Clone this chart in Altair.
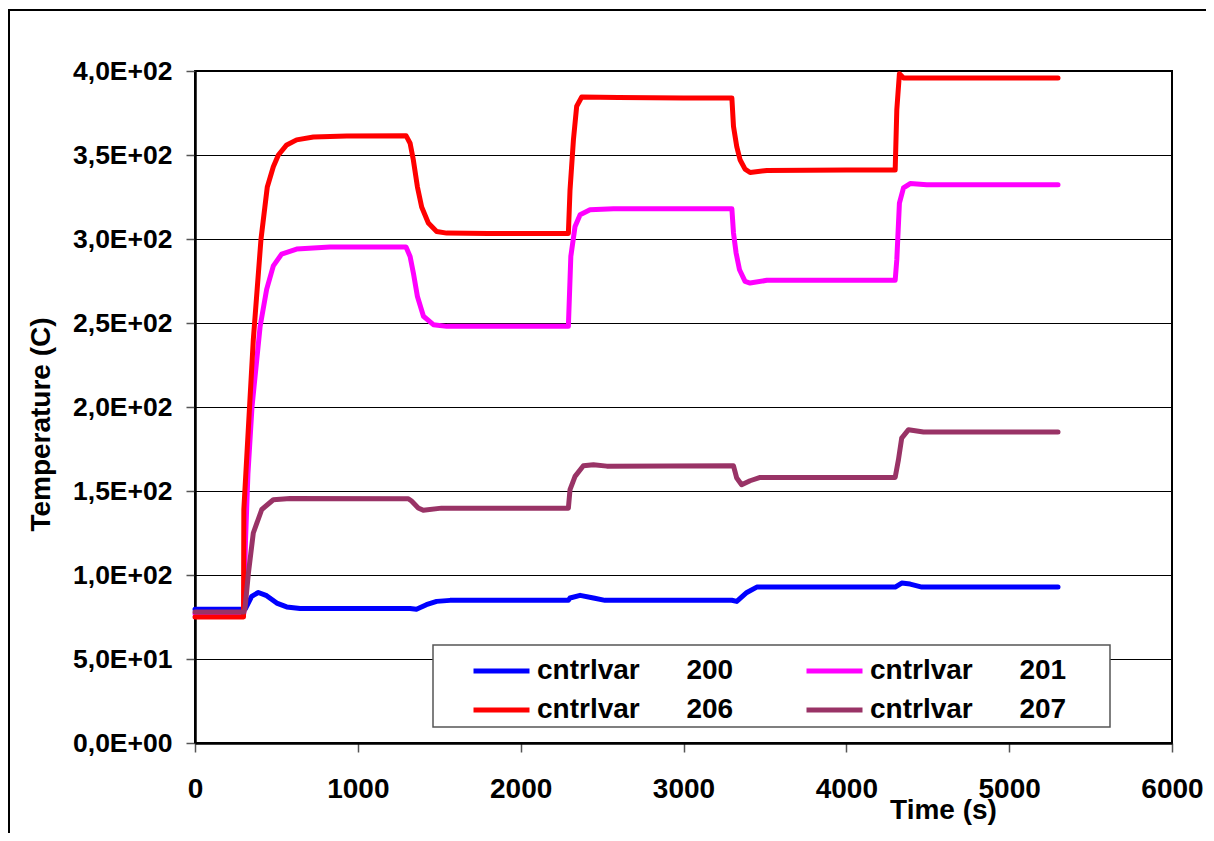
import altair as alt
import pandas as pd

# ---- data ----
SERIES = ["cntrlvar 200", "cntrlvar 201", "cntrlvar 206", "cntrlvar 207"]
COLORS = ["#0000FF", "#FF00FF", "#FF0000", "#993366"]

T_200 = [0, 300, 310, 348, 389, 440, 502, 563, 645, 1321, 1360, 1421, 1484, 1566, 2293, 2303,
         2365, 2447, 2518, 3297, 3327, 3389, 3450, 3512, 4300, 4340, 4392, 4464, 5300]
V_200 = [79.6, 79.6, 80, 87.3, 89.6, 87.7, 83.3, 81, 80, 80, 79.6, 82.3, 84.3, 84.9, 85, 86.3,
         87.9, 86.3, 84.9, 85, 84.3, 89.6, 92.8, 92.8, 92.8, 95.2, 94.6, 92.8, 92.8]

T_201 = [0, 300, 310, 325, 350, 400, 440, 481, 532, 624, 829, 1296, 1321, 1341, 1366, 1403, 1464,
         1546, 2293, 2308, 2334, 2365, 2426, 2570, 3297, 3307, 3323, 3344, 3378, 3409, 3512, 4300,
         4310, 4326, 4351, 4392, 4494, 5300]
V_201 = [77, 77, 120, 160, 200, 248, 270, 284, 291, 294, 295.2, 295.2, 289.6, 279.8, 265.8, 254, 249,
         248, 248, 289.6, 307.5, 314.5, 317.4, 318, 318, 303.6, 291.7, 281.7, 274.8, 273.8, 275.4, 275.4,
         287.7, 321.4, 330.4, 333, 332.3, 332.3]

T_206 = [0, 298, 300, 335, 358, 405, 444, 481, 512, 563, 624, 727, 932, 1296, 1321, 1341, 1366, 1392,
         1433, 1484, 1546, 1800, 2293, 2303, 2324, 2344, 2375, 2600, 3000, 3297, 3307, 3327, 3348, 3378,
         3409, 3512, 4000, 4300, 4310, 4326, 4351, 4500, 5300]
V_206 = [75, 75, 139, 200, 240, 299.6, 331, 343, 350, 356, 359, 360.7, 361.3, 361.5, 357, 347, 331, 319,
         309.5, 304.5, 303.5, 303.3, 303.3, 329, 359, 379, 384.5, 384.2, 384, 384, 367, 355, 347, 341.6,
         339.6, 340.8, 341, 341, 377, 398.4, 395.8, 395.8, 395.8]

T_207 = [0, 300, 307, 328, 358, 410, 481, 584, 1310, 1330, 1371, 1402, 1514, 2293, 2303, 2334, 2385,
         2447, 2529, 3307, 3327, 3357, 3409, 3471, 4300, 4320, 4340, 4382, 4474, 5300]
V_207 = [78, 78, 80, 101, 125, 139, 144.8, 145.6, 145.4, 144, 139.9, 138.5, 139.8, 139.8, 150.8, 158.7,
         165, 165.6, 164.8, 165, 157.7, 153.7, 156.1, 158.1, 158.1, 168.6, 181.5, 186.5, 185.1, 185.1]

X_TICKS = [0, 1000, 2000, 3000, 4000, 5000, 6000]
Y_TICKS = [0, 50, 100, 150, 200, 250, 300, 350, 400]
Y_TICK_LABELS = ["0,0E+00", "5,0E+01", "1,0E+02", "1,5E+02", "2,0E+02",
                 "2,5E+02", "3,0E+02", "3,5E+02", "4,0E+02"]

X_TITLE = "Time (s)"
Y_TITLE = "Temperature (C)"

# ---- build table ----
rows = []
for name, ts, vs in zip(SERIES, [T_200, T_201, T_206, T_207], [V_200, V_201, V_206, V_207]):
    for i, (t, v) in enumerate(zip(ts, vs)):
        rows.append({"series": name, "t": t, "v": v, "i": i})
df = pd.DataFrame(rows)

y_label_expr = " : ".join(
    f"datum.value == {v} ? '{lab}'" for v, lab in zip(Y_TICKS, Y_TICK_LABELS)
) + " : ''"

FONT = "Liberation Sans"
GAP = "\u00a0" * 6

lines = alt.Chart(df).mark_line(strokeWidth=5, strokeCap="round", strokeJoin="round").encode(
    x=alt.X("t:Q", scale=alt.Scale(domain=[0, 6000], nice=False),
            axis=alt.Axis(values=X_TICKS, format="d", title=X_TITLE, grid=False,
                          labelFlush=False, labelOverlap=False,
                          tickSize=9, labelPadding=23, titleX=748, titleY=67,
                          titleBaseline="middle", titleAlign="center")),
    y=alt.Y("v:Q", scale=alt.Scale(domain=[0, 400], nice=False),
            axis=alt.Axis(values=Y_TICKS, labelExpr=y_label_expr, title=Y_TITLE, grid=True,
                          labelFontSize=26.5, labelFlush=False, labelOverlap=False,
                          tickSize=9, labelPadding=14, titleX=-154, titleY=353,
                          titleAngle=270, titleBaseline="middle", titleAlign="center")),
    color=alt.Color("series:N", scale=alt.Scale(domain=SERIES, range=COLORS),
                    legend=alt.Legend(title=None, orient="none", legendX=276, legendY=586,
                                      columns=2, direction="horizontal",
                                      labelExpr=f"replace(datum.label, ' ', '{GAP}')")),
    order="i:Q",
)

# legend box (decoration)
legend_box = alt.Chart(alt.Data(values=[{"a": 1}])).mark_rect(
    fill="white", stroke="#555555", strokeWidth=1.5
).encode(
    x=alt.value(238), x2=alt.value(915), y=alt.value(574), y2=alt.value(656)
)

# outer chart-area frame (decoration)
frame = alt.Chart(alt.Data(values=[{"a": 1}])).mark_rect(
    fillOpacity=0, stroke="black", strokeWidth=2
).encode(
    x=alt.value(-186), x2=alt.value(1150), y=alt.value(-61), y2=alt.value(900)
)

chart = alt.layer(lines, legend_box, frame).properties(
    width=977, height=672,
    autosize=alt.AutoSizeParams(type="none"),
    padding={"left": 187, "top": 63, "right": 34, "bottom": 90},
).configure_view(
    stroke="black", strokeWidth=2
).configure_axis(
    labelFont=FONT, labelFontSize=28, labelFontWeight="bold", labelColor="black",
    titleFont=FONT, titleFontSize=28, titleFontWeight="bold", titleColor="black",
    domainColor="black", domainWidth=2.5, tickColor="#555555", tickWidth=1.5,
    gridColor="black", gridWidth=1, gridOpacity=1
).configure_legend(
    labelFont=FONT, labelFontSize=28, labelFontWeight="bold", labelColor="black",
    labelLimit=500, padding=0,
    symbolType="stroke", symbolSize=3136, symbolStrokeWidth=5, symbolOffset=0,
    clipHeight=28, rowPadding=11, columnPadding=70, labelOffset=5
)

chart.save("out.html", embed_options={"renderer": "svg", "actions": False})
